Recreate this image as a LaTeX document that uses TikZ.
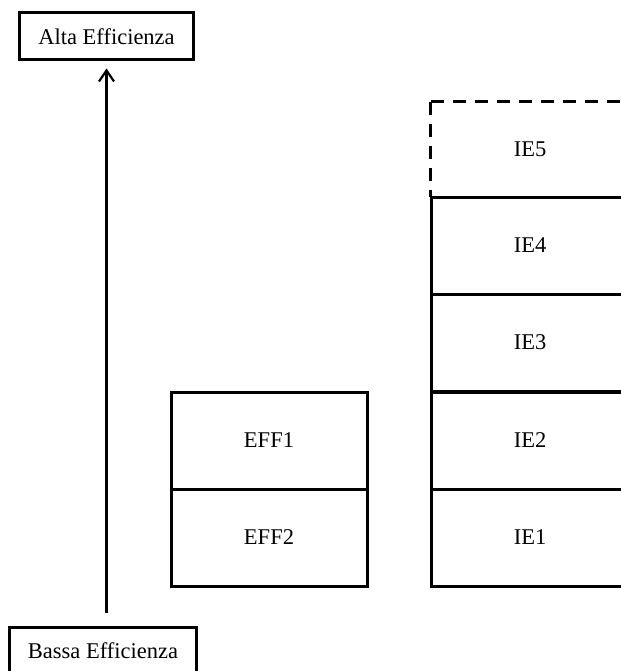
\documentclass[tikz,border=0pt]{standalone}
\usepackage{fontspec}
\setmainfont{Liberation Serif}
\usetikzlibrary{arrows.meta}
\begin{document}
\begin{tikzpicture}[x=1bp,y=-1bp,
  lbl/.style={font=\fontsize{22.5bp}{26bp}\selectfont, text=black},
  cell/.style={draw=black, line width=3bp, rectangle, inner sep=0pt, lbl},
  dline/.style={draw=black, line width=3bp, dash pattern=on 13bp off 9bp},
  arr/.style={line width=2.2bp, -{Straight Barb[length=11bp,width=15bp,line width=2.2bp]}}]
\useasboundingbox (0,0) rectangle (621,671);
\clip (0,0) rectangle (621,671);
% legend boxes
\node[cell, minimum width=173bp, minimum height=47bp] (alta) at (106.5,36.5) {Alta Efficienza};
\node[cell, minimum width=186bp, minimum height=48bp] (bassa) at (103,651) {Bassa Efficienza};
% EFF column
\node[cell, minimum width=196bp, minimum height=97bp] (eff1) at (269,440.5) {EFF1};
\node[cell, minimum width=196bp, minimum height=97bp] (eff2) at (269,537.5) {EFF2};
% IE column
\node[lbl, rectangle, inner sep=0pt, minimum width=198bp, minimum height=95bp] (ie5) at (530,149.5) {IE5};
\draw[dline] (ie5.north west) -- (ie5.south west);
\draw[dline] (ie5.north west) -- (ie5.north east);
\node[cell, minimum width=198bp, minimum height=97bp] (ie4) at (530,245.5) {IE4};
\node[cell, minimum width=198bp, minimum height=97bp] (ie3) at (530,342.5) {IE3};
\node[cell, minimum width=198bp, minimum height=97bp] (ie2) at (530,440.5) {IE2};
\node[cell, minimum width=198bp, minimum height=97bp] (ie1) at (530,537.5) {IE1};
% arrow
\draw[arr, shorten <=13bp, shorten >=7bp] (bassa.north -| alta.south) -- (alta.south);
\end{tikzpicture}
\end{document}
